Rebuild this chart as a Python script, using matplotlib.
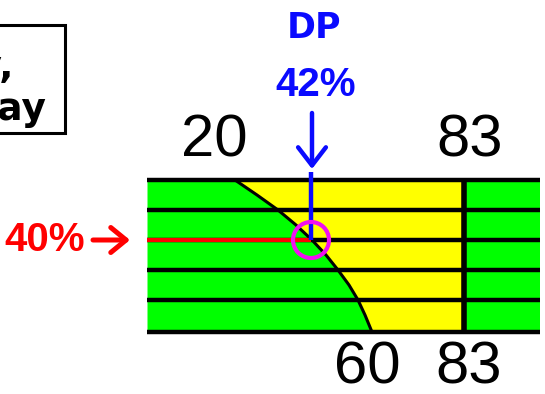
import matplotlib
matplotlib.use('Agg')
import matplotlib.pyplot as plt
from matplotlib.patches import Rectangle, Circle

# ---- diagram data (in picture units) ----
band_lines = [180, 210, 240, 270, 300, 332]          # horizontal rule positions
curve_y = [180, 195, 210, 225, 240, 255, 270, 285, 300, 315, 332]
curve_x = [235, 257, 278, 296, 312, 326, 338, 349, 358, 365, 372]
x_left, x_right = 147, 540
divider_x = 464
point_x, point_y = 311, 240                            # dew-point marker
marker_r = 18
top_labels = ['20', '83']
top_label_x = [214, 470]
bottom_labels = ['60', '83']
bottom_label_x = [367, 469]
dp_title = 'DP'
dp_pct = '42%'
rh_pct = '40%'
box_lines = ['Today,', 'Friday']
box_line_right = [14, 47]

GREEN = '#00ff00'
YELLOW = '#ffff00'
BLUE = '#0a0aff'
RED = '#ff0000'
MAGENTA = '#f010f0'

W, H = 545, 394
fig = plt.figure(figsize=(W / 100, H / 100), dpi=100)
ax = fig.add_axes([0, 0, 1, 1])
ax.set_xlim(0, W)
ax.set_ylim(H, 0)
ax.axis('off')

# fills
ax.fill_betweenx(curve_y, x_left, curve_x, color=GREEN, lw=0, zorder=1)
ax.fill_betweenx(curve_y, curve_x, divider_x, color=YELLOW, lw=0, zorder=1)
ax.fill_betweenx([band_lines[0], band_lines[-1]], divider_x, x_right, color=GREEN, lw=0, zorder=1)

# rules
ax.hlines(band_lines, x_left, x_right, color='black', lw=3.2, zorder=3)
ax.plot(curve_x, curve_y, color='black', lw=2.2, zorder=3, solid_capstyle='butt',
        solid_joinstyle='round')
ax.vlines(divider_x, band_lines[0], band_lines[-1], color='black', lw=4, zorder=3)

# red RH line and blue DP line
ax.hlines(point_y, x_left, point_x, color=RED, lw=3, zorder=4)
ax.vlines(point_x, 172, point_y, color=BLUE, lw=3.2, zorder=4)
ax.add_patch(Circle((point_x, point_y), marker_r, fill=False, ec=MAGENTA, lw=3, zorder=5))

# labels
num_font = dict(family=['Liberation Sans', 'DejaVu Sans'], fontsize=43, color='black',
                ha='center', va='center')
for t, x in zip(top_labels, top_label_x):
    ax.text(x, 141, t, **num_font)
for t, x in zip(bottom_labels, bottom_label_x):
    ax.text(x, 368, t, **num_font)

ax.text(314, 28, dp_title, family='DejaVu Sans', fontweight='bold', fontsize=25,
        color=BLUE, ha='center', va='center')
ax.text(316, 85, dp_pct, family=['Liberation Sans', 'DejaVu Sans'], fontweight='bold',
        fontsize=29, color=BLUE, ha='center', va='center')
ax.annotate('', xy=(312, 169), xytext=(312, 113),
            arrowprops=dict(arrowstyle='->,head_length=1.3,head_width=1.0', color=BLUE,
                            lw=3.2, shrinkA=0, shrinkB=0, mutation_scale=10))

ax.text(45, 240, rh_pct, family=['Liberation Sans', 'DejaVu Sans'], fontweight='bold',
        fontsize=29, color=RED, ha='center', va='center')
ax.annotate('', xy=(130, 240), xytext=(93, 240),
            arrowprops=dict(arrowstyle='->,head_length=1.1,head_width=0.9', color=RED,
                            lw=3.6, shrinkA=0, shrinkB=0, mutation_scale=10))

# partial legend box
ax.add_patch(Rectangle((-10, 25), 75, 108, fill=True, fc='white', ec='black', lw=2.2, zorder=2))
ax.text(box_line_right[0], 78, box_lines[0], family='DejaVu Sans', fontweight='bold',
        fontsize=27, ha='right', va='baseline', zorder=6)
ax.text(box_line_right[1], 120, box_lines[1], family='DejaVu Sans', fontweight='bold',
        fontsize=27, ha='right', va='baseline', zorder=6)

fig.savefig('out.png', dpi=100)
